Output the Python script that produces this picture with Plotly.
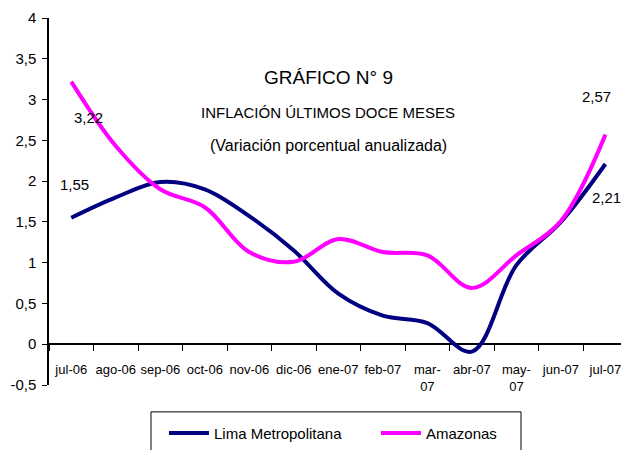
import plotly.graph_objects as go

categories = ["jul-06", "ago-06", "sep-06", "oct-06", "nov-06", "dic-06", "ene-07",
              "feb-07", "mar-<br>07", "abr-07", "may-<br>07", "jun-07", "jul-07"]
lima = [1.55, 1.80, 1.99, 1.90, 1.57, 1.15, 0.62, 0.35, 0.26, -0.09, 0.97, 1.50, 2.21]
amazonas = [3.22, 2.43, 1.90, 1.68, 1.13, 1.01, 1.29, 1.13, 1.09, 0.69, 1.09, 1.51, 2.57]
ytick_vals = [-0.5, 0, 0.5, 1, 1.5, 2, 2.5, 3, 3.5, 4]
ytick_text = ["-0,5", "0", "0,5", "1", "1,5", "2", "2,5", "3", "3,5", "4"]

FONT = "Liberation Sans, Arial, sans-serif"

fig = go.Figure()
fig.add_trace(go.Scatter(x=categories, y=lima, name="Lima Metropolitana", mode="lines",
                         line=dict(color="#000080", width=4, shape="spline", smoothing=1)))
fig.add_trace(go.Scatter(x=categories, y=amazonas, name="Amazonas", mode="lines",
                         line=dict(color="#FF00FF", width=4, shape="spline", smoothing=1)))

labels = [
    (categories[0], amazonas[0], "3,22", 17, -36),
    (categories[0], lima[0], "1,55", 3, 33),
    (categories[12], amazonas[12], "2,57", -9, 38),
    (categories[12], lima[12], "2,21", 1, -34),
]
for x, y, t, ax, ay in labels:
    fig.add_annotation(x=x, y=y, text=t, showarrow=False, xshift=ax, yshift=ay,
                       font=dict(family=FONT, size=15, color="black"))

titles = [("GRÁFICO N° 9", 0.837, 19), ("INFLACIÓN ÚLTIMOS DOCE MESES", 0.743, 15),
          ("(Variación porcentual anualizada)", 0.652, 16)]
for t, yy, sz in titles:
    fig.add_annotation(xref="paper", yref="paper", x=0.488, y=yy, text=t, showarrow=False,
                       xanchor="center", yanchor="middle",
                       font=dict(family=FONT, size=sz, color="black"))

# legend frame
fig.add_shape(type="rect", xref="paper", yref="paper", x0=0.1783, x1=0.8252,
              y0=-0.3, y1=-0.0732, line=dict(color="black", width=1), fillcolor="rgba(0,0,0,0)")

fig.update_layout(
    width=621, height=450,
    margin=dict(l=49, r=0, t=18, b=63),
    paper_bgcolor="white", plot_bgcolor="white",
    font=dict(family=FONT, color="black"),
    showlegend=True,
    legend=dict(orientation="h", x=0.201, xanchor="left", y=-0.0867, yanchor="top",
                borderwidth=0, bgcolor="rgba(0,0,0,0)", font=dict(family=FONT, size=15),
                entrywidth=157, itemwidth=40),
    xaxis=dict(type="category", range=[-0.5, 12.35], tickson="boundaries",
               showline=False, ticks="outside", ticklen=6, tickcolor="black",
               anchor="free", position=0.5 / 4.5, showgrid=False, tickangle=0,
               automargin=False,
               tickfont=dict(family=FONT, size=13), ticklabelstandoff=16),
    yaxis=dict(range=[-0.5, 4], tickvals=ytick_vals, ticktext=ytick_text,
               showline=True, linecolor="black", linewidth=1.5, ticks="outside", ticklen=5,
               tickcolor="black", showgrid=False, zeroline=True, zerolinecolor="black",
               zerolinewidth=1.5, automargin=False, ticklabelstandoff=3,
               tickfont=dict(family=FONT, size=15)),
)

fig.write_html("out.html", config={"displayModeBar": False},
               post_script="document.body.style.margin='0';document.body.style.overflow='hidden';")
